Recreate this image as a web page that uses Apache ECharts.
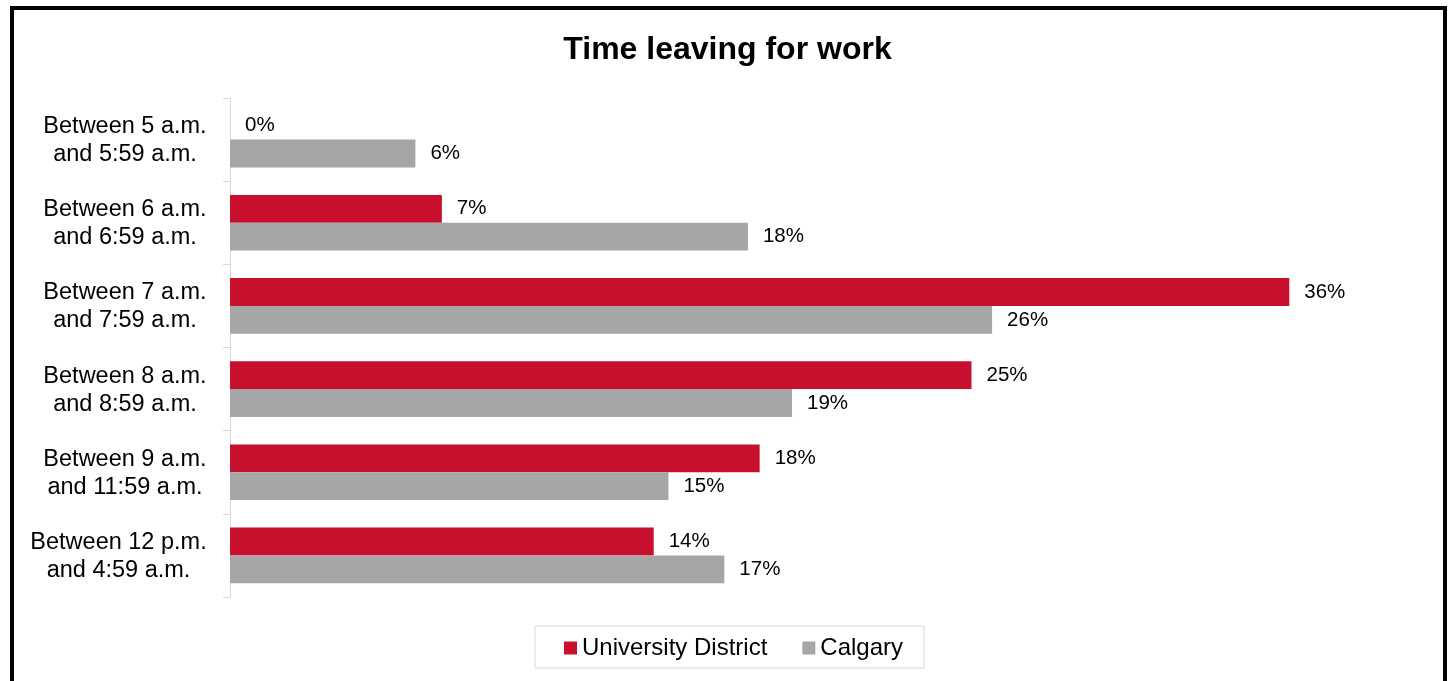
<!DOCTYPE html>
<html>
<head>
<meta charset="utf-8">
<script src="https://cdn.jsdelivr.net/npm/echarts@6/dist/echarts.min.js"></script>
<style>
html,body{margin:0;padding:0;background:#fff;}
#chart{width:1455px;height:681px;}
</style>
</head>
<body>
<div id="chart"></div>
<script>
const categories = [
  "Between 5 a.m.\nand 5:59 a.m.",
  "Between 6 a.m.\nand 6:59 a.m.",
  "Between 7 a.m.\nand 7:59 a.m.",
  "Between 8 a.m.\nand 8:59 a.m.",
  "Between 9 a.m.\nand 11:59 a.m.",
  "Between 12 p.m.\nand 4:59 a.m."
];
const universityDistrict = [0, 7.2, 36.0, 25.2, 18.0, 14.4];
const calgary = [6.3, 17.6, 25.9, 19.1, 14.9, 16.8];
const seriesNames = ["University District", "Calgary"];

const FONT = 'Liberation Sans, Arial, sans-serif';
const CAT_FONT_SIZE = 23.5;

// Lines centred inside a block that is right-aligned to the axis
const ctx = document.createElement('canvas').getContext('2d');
ctx.font = CAT_FONT_SIZE + 'px ' + FONT;
const richStyles = {};
categories.forEach((c, i) => {
  const w = Math.ceil(Math.max(...c.split('\n').map(l => ctx.measureText(l).width)));
  richStyles['c' + i] = {width: w, align: 'center', fontFamily: FONT, fontSize: CAT_FONT_SIZE, lineHeight: 28, color: '#000'};
});

const chart = echarts.init(document.getElementById('chart'));
const labelCfg = {
  show: true,
  position: 'right',
  distance: 15,
  color: '#000',
  fontFamily: FONT,
  fontSize: 20.5,
  padding: [3, 0, 0, 0],
  formatter: p => Math.round(p.value) + '%'
};
chart.setOption({
  animation: false,
  backgroundColor: '#fff',
  title: {
    text: 'Time leaving for work',
    left: 'center',
    top: 29,
    textStyle: {fontFamily: FONT, fontSize: 32, fontWeight: 'bold', color: '#000'}
  },
  legend: {
    data: seriesNames,
    bottom: 13,
    left: 535,
    icon: 'rect',
    itemWidth: 13,
    itemHeight: 13,
    itemGap: 35,
    borderColor: '#d9d9d9',
    borderWidth: 1,
    padding: [10, 21, 8, 29],
    textStyle: {fontFamily: FONT, fontSize: 24, color: '#000'}
  },
  grid: {left: 230, right: 48, top: 98, bottom: 84, containLabel: false, outerBoundsMode: 'none'},
  xAxis: {
    type: 'value', min: 0, max: 40,
    show: false
  },
  yAxis: {
    type: 'category',
    data: categories,
    inverse: true,
    axisLine: {show: true, lineStyle: {color: '#d9d9d9', width: 1}},
    axisTick: {show: true, length: 7, lineStyle: {color: '#d9d9d9'}},
    axisLabel: {
      margin: 23, align: 'right',
      fontFamily: FONT, fontSize: CAT_FONT_SIZE, lineHeight: 28, color: '#000',
      padding: [2, 0, 0, 0],
      formatter: (v, i) => v.split('\n').map(l => '{c' + i + '|' + l + '}').join('\n'),
      rich: richStyles
    }
  },
  series: [
    {name: seriesNames[0], type: 'bar', data: universityDistrict, barGap: '0%', barCategoryGap: '33%',
     itemStyle: {color: '#C8102E'}, label: labelCfg},
    {name: seriesNames[1], type: 'bar', data: calgary, barGap: '0%', barCategoryGap: '33%',
     itemStyle: {color: '#A6A6A6'}, label: labelCfg}
  ],
  graphic: [{
    type: 'rect', silent: true,
    shape: {x: 12, y: 8, width: 1433, height: 720},
    style: {fill: 'none', stroke: '#000', lineWidth: 4}
  }]
});
</script>
</body>
</html>
